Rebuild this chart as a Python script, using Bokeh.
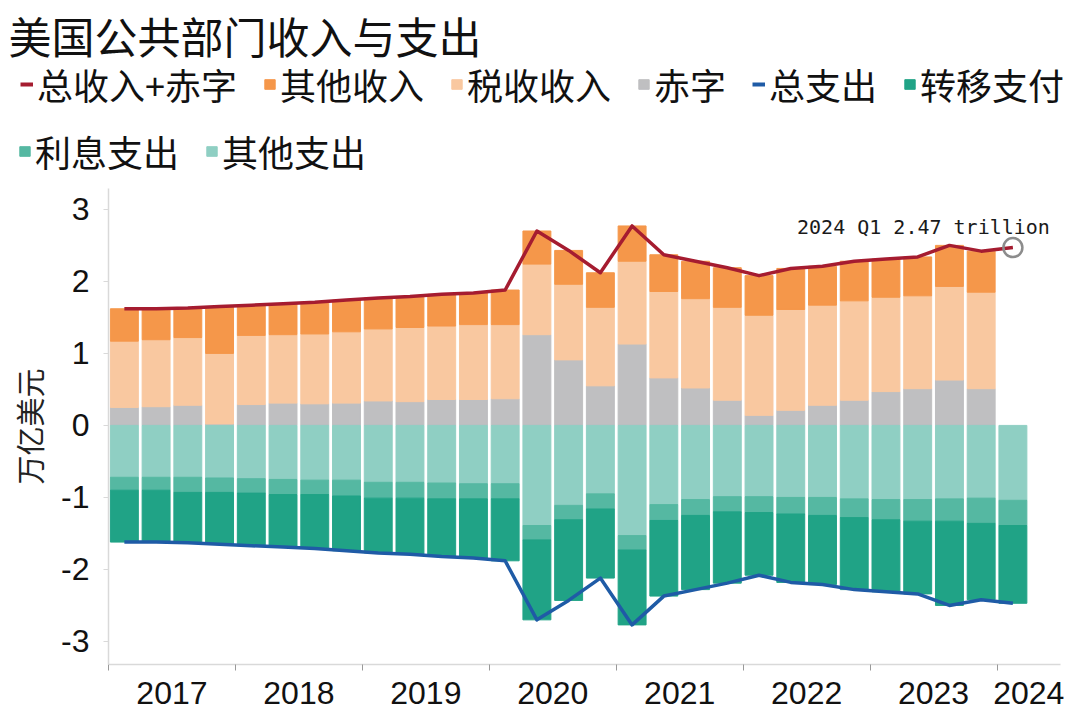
import numpy as np
from bokeh.plotting import figure
from bokeh.layouts import column
from bokeh.models import Range1d, FixedTicker, Legend, LegendItem, Label, ColumnDataSource
from bokeh.embed import file_html
from bokeh.resources import INLINE

# ---------------- data (trillion USD, quarterly) ----------------
nan = float("nan")
quarters = ["2017Q1", "2017Q2", "2017Q3", "2017Q4",
            "2018Q1", "2018Q2", "2018Q3", "2018Q4",
            "2019Q1", "2019Q2", "2019Q3", "2019Q4",
            "2020Q1", "2020Q2", "2020Q3", "2020Q4",
            "2021Q1", "2021Q2", "2021Q3", "2021Q4",
            "2022Q1", "2022Q2", "2022Q3", "2022Q4",
            "2023Q1", "2023Q2", "2023Q3", "2023Q4",
            "2024Q1"]
years = ["2017", "2018", "2019", "2020", "2021", "2022", "2023", "2024"]

deficit = [0.25, 0.26, 0.28, 0.02, 0.29, 0.31, 0.30, 0.31,
           0.34, 0.33, 0.36, 0.36, 0.37, 1.26, 0.91, 0.55,
           1.13, 0.66, 0.52, 0.35, 0.14, 0.21, 0.28, 0.35,
           0.47, 0.51, 0.63, 0.51, nan]
tax_revenue = [0.92, 0.93, 0.94, 0.98, 0.96, 0.95, 0.97, 0.99,
               1.00, 1.03, 1.02, 1.04, 1.03, 0.98, 1.05, 1.09,
               1.15, 1.20, 1.24, 1.29, 1.39, 1.40, 1.39, 1.38,
               1.31, 1.29, 1.30, 1.34, nan]
other_revenue = [0.45, 0.43, 0.41, 0.65, 0.42, 0.43, 0.44, 0.44,
                 0.43, 0.43, 0.44, 0.44, 0.48, 0.46, 0.47, 0.48,
                 0.49, 0.51, 0.52, 0.55, 0.55, 0.57, 0.54, 0.55,
                 0.53, 0.54, 0.57, 0.57, nan]
total_revenue_plus_deficit = [1.62, 1.62, 1.63, 1.65, 1.67, 1.69, 1.71, 1.74,
                              1.77, 1.79, 1.82, 1.84, 1.88, 2.70, 2.43, 2.12,
                              2.77, 2.37, 2.28, 2.19, 2.08, 2.18, 2.21, 2.28,
                              2.31, 2.34, 2.50, 2.42, 2.47]

other_spending = [0.72, 0.72, 0.72, 0.73, 0.74, 0.75, 0.76, 0.76,
                  0.79, 0.79, 0.80, 0.81, 0.81, 1.39, 1.11, 0.95,
                  1.53, 1.10, 1.03, 0.99, 0.99, 1.00, 1.00, 1.02,
                  1.03, 1.03, 1.02, 1.01, 1.04]
interest_spending = [0.18, 0.18, 0.21, 0.20, 0.20, 0.21, 0.20, 0.22,
                     0.22, 0.22, 0.22, 0.21, 0.21, 0.20, 0.20, 0.21,
                     0.20, 0.22, 0.22, 0.21, 0.22, 0.23, 0.25, 0.26,
                     0.28, 0.30, 0.31, 0.35, 0.35]
transfer_payments = [0.72, 0.72, 0.70, 0.72, 0.73, 0.73, 0.75, 0.76,
                     0.76, 0.78, 0.80, 0.82, 0.86, 1.11, 1.12, 0.96,
                     1.04, 1.05, 1.03, 0.99, 0.87, 0.95, 0.96, 1.00,
                     1.00, 1.01, 1.17, 1.06, 1.08]
total_spending = [1.62, 1.62, 1.63, 1.65, 1.67, 1.69, 1.71, 1.74,
                  1.77, 1.79, 1.82, 1.84, 1.88, 2.70, 2.43, 2.12,
                  2.77, 2.37, 2.28, 2.19, 2.08, 2.18, 2.21, 2.28,
                  2.31, 2.34, 2.50, 2.42, 2.47]

title_text = "美国公共部门收入与支出"
y_title = "万亿美元"
annotation_text = "2024 Q1 2.47 trillion"
y_ticks = [-3, -2, -1, 0, 1, 2, 3]

# ---------------- colours ----------------
RED = "#A51C30"
BLUE = "#1F5BA6"
ORANGE = "#F5974A"
PEACH = "#F9C8A0"
GRAY = "#BFBFC1"
TEAL_DARK = "#20A386"
TEAL_MID = "#55B8A2"
TEAL_LIGHT = "#8FCFC3"
AXIS = "#D9D9D9"
CJK = "Noto Sans CJK SC"

n = len(quarters)
xs = np.arange(n) + 0.5
d = np.array(deficit)
t = np.array(tax_revenue)
o = np.array(other_revenue)
os_ = np.array(other_spending)
it = np.array(interest_spending)
tr = np.array(transfer_payments)

src = ColumnDataSource(dict(
    x=xs,
    d_top=d, t_top=d + t, o_top=d + t + o,
    s1=-os_, s2=-(os_ + it), s3=-(os_ + it + tr),
    rev=np.array(total_revenue_plus_deficit),
    spend=-np.array(total_spending),
))

# ================= header figure: title + legend =================
TOP_H = 188
W_ALL = 1080
head = figure(width=W_ALL, height=TOP_H, output_backend="svg", toolbar_location=None,
              x_range=Range1d(0, W_ALL), y_range=Range1d(0, TOP_H),
              x_axis_location=None, y_axis_location=None, title=None,
              min_border_left=0, min_border_right=0, min_border_top=0, min_border_bottom=0)
head.outline_line_color = None
head.grid.visible = False

# legend swatches (same styles as the chart renderers; drawn off-screen)
off = dict(x=[-1000], y=[-1000])
h_red = head.line(x=off["x"], y=off["y"], line_width=4, color=RED)
h_blue = head.line(x=off["x"], y=off["y"], line_width=4, color=BLUE)
h_orev = head.vbar(x=off["x"], top=off["y"], width=1, color=ORANGE)
h_tax = head.vbar(x=off["x"], top=off["y"], width=1, color=PEACH)
h_def = head.vbar(x=off["x"], top=off["y"], width=1, color=GRAY)
h_tr = head.vbar(x=off["x"], top=off["y"], width=1, color=TEAL_DARK)
h_int = head.vbar(x=off["x"], top=off["y"], width=1, color=TEAL_MID)
h_os = head.vbar(x=off["x"], top=off["y"], width=1, color=TEAL_LIGHT)

head.add_layout(Label(x=8, y=TOP_H - 3, text=title_text, text_font=CJK,
                      text_font_size="43px", text_baseline="top", text_align="left",
                      text_color="#111111"))


def make_legend(items, loc):
    return Legend(items=items, orientation="horizontal", location=loc,
                  label_text_font=CJK, label_text_font_size="36px", label_text_color="#111111",
                  glyph_width=13, glyph_height=12, label_standoff=4, spacing=26,
                  padding=0, margin=0, border_line_color=None, background_fill_alpha=0)


leg1 = make_legend([
    LegendItem(label="总收入+赤字", renderers=[h_red]),
    LegendItem(label="其他收入", renderers=[h_orev]),
    LegendItem(label="税收收入", renderers=[h_tax]),
    LegendItem(label="赤字", renderers=[h_def]),
    LegendItem(label="总支出", renderers=[h_blue]),
    LegendItem(label="转移支付", renderers=[h_tr]),
], (20, 78))
leg2 = make_legend([
    LegendItem(label="利息支出", renderers=[h_int]),
    LegendItem(label="其他支出", renderers=[h_os]),
], (18, 11))
head.add_layout(leg1)
head.add_layout(leg2)

# ================= main chart =================
p = figure(width=W_ALL, height=715 - TOP_H, output_backend="svg", toolbar_location=None,
           x_range=Range1d(0, n + 1), y_range=Range1d(-3.32, 3.29), title=None,
           min_border_left=108, min_border_right=20, min_border_top=0, min_border_bottom=51)
p.outline_line_color = None
p.grid.visible = False

for fig in (head, p):
    try:
        fig.frame_align = False
    except Exception:
        pass

BW = 0.88
r_def = p.vbar(x="x", bottom=0, top="d_top", width=BW, color=GRAY, source=src)
r_tax = p.vbar(x="x", bottom="d_top", top="t_top", width=BW, color=PEACH, source=src)
r_orev = p.vbar(x="x", bottom="t_top", top="o_top", width=BW, color=ORANGE, source=src)
r_os = p.vbar(x="x", top=0, bottom="s1", width=BW, color=TEAL_LIGHT, source=src)
r_int = p.vbar(x="x", top="s1", bottom="s2", width=BW, color=TEAL_MID, source=src)
r_tr = p.vbar(x="x", top="s2", bottom="s3", width=BW, color=TEAL_DARK, source=src)
r_red = p.line(x="x", y="rev", line_width=3.5, color=RED, line_join="round", source=src)
r_blue = p.line(x="x", y="spend", line_width=3.5, color=BLUE, line_join="round", source=src)

p.scatter(x=[xs[-1]], y=[total_revenue_plus_deficit[-1]], size=19, fill_color=None,
          line_color="#8C8C8C", line_width=2.5)
p.add_layout(Label(x=xs[-1], y=total_revenue_plus_deficit[-1], text=annotation_text,
                   text_font="DejaVu Sans Mono", text_font_size="20px", text_align="right",
                   text_baseline="middle", x_offset=37, y_offset=21, text_color="#1a1a1a"))

# x axis: year labels at year centres, boundary ticks as minor ticks
year_centres = [2, 6, 10, 14, 18, 22, 26, 29]
xa = p.xaxis[0]
xa.ticker = FixedTicker(ticks=year_centres, minor_ticks=[0, 4, 8, 12, 16, 20, 24, 28])
xa.major_label_overrides = {c: y for c, y in zip(year_centres, years)}
xa.major_tick_line_color = None
xa.major_tick_out = 0
xa.minor_tick_out = 6
xa.minor_tick_in = 0
xa.minor_tick_line_color = "#999999"
xa.axis_line_color = AXIS
xa.axis_line_width = 1.5
xa.major_label_text_font = "Liberation Sans"
xa.major_label_text_font_size = "32px"
xa.major_label_text_color = "#111111"
xa.major_label_standoff = 11

ya = p.yaxis[0]
ya.ticker = FixedTicker(ticks=y_ticks)
ya.major_label_overrides = {v: str(v) for v in y_ticks}
ya.major_tick_out = 5
ya.major_tick_in = 0
ya.minor_tick_line_color = None
ya.major_tick_line_color = AXIS
ya.axis_line_color = AXIS
ya.axis_line_width = 1.5
ya.major_label_text_font = "Liberation Sans"
ya.major_label_text_font_size = "32px"
ya.major_label_text_color = "#111111"
ya.major_label_standoff = 14
ya.axis_label = y_title
ya.axis_label_text_font = CJK
ya.axis_label_text_font_size = "29px"
ya.axis_label_text_font_style = "normal"
ya.axis_label_text_color = "#222222"
ya.axis_label_standoff = 8

layout = column(head, p, spacing=0)
open("out.html", "w").write(file_html(layout, INLINE))
